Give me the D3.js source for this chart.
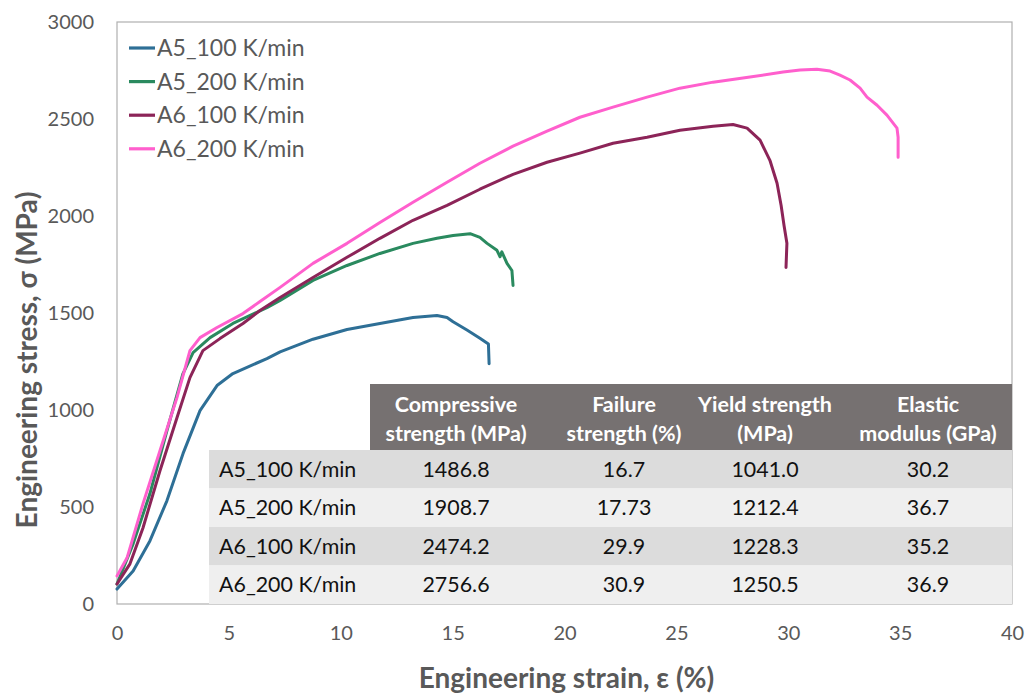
<!DOCTYPE html>
<html>
<head>
<meta charset="utf-8">
<script src="https://cdn.jsdelivr.net/npm/d3@7"></script>
<style>
  body { margin: 0; background: #fff; }
  svg { font-family: Lato, "Open Sans", sans-serif; }
</style>
</head>
<body>
<div id="chart"></div>
<script>
// series names + colours
var seriesNames = ["A5_100 K/min", "A5_200 K/min", "A6_100 K/min", "A6_200 K/min"];
var seriesColors = ["#2e6f96", "#2a8a5f", "#8c2458", "#ff5fcd"];

// stress-strain curves: [strain %, stress MPa]
var a5_100 = [[0,77],[0.72,170],[1.47,325],[2.23,532],[2.95,775],[3.71,997],[4.47,1126],[5.18,1188],
  [6.70,1265],[7.29,1300],[8.76,1365],[10.28,1415],[11.75,1446],[13.23,1477],[14.30,1487],[14.75,1477],
  [15.02,1455],[15.64,1412],[16.22,1370],[16.60,1340],[16.63,1239]];
var a5_200 = [[0,103],[0.72,310],[1.47,568],[2.23,893],[2.95,1188],[3.40,1296],[4.16,1373],[5.18,1446],
  [6.70,1528],[7.29,1565],[8.76,1668],[10.28,1745],[11.75,1807],[13.23,1859],[14.30,1885],[15.02,1900],
  [15.78,1909],[16.22,1890],[16.54,1859],[16.98,1823],[17.12,1790],[17.20,1815],[17.43,1756],[17.65,1719],[17.70,1642]];
var a6_100 = [[0,103],[0.58,207],[1.16,392],[1.92,687],[2.68,960],[3.26,1167],[3.84,1306],[4.60,1368],
  [5.63,1446],[6.39,1513],[7.29,1580],[8.76,1683],[10.28,1787],[11.75,1885],[13.23,1978],[14.75,2055],
  [16.22,2138],[17.70,2215],[19.22,2277],[20.69,2324],[22.17,2375],[23.69,2406],[25.16,2442],[26.64,2463],
  [27.53,2472],[28.16,2453],[28.74,2391],[29.18,2287],[29.50,2169],[29.68,2055],[29.81,1952],[29.94,1859],[29.90,1735]];
var a6_200 = [[0,145],[0.45,238],[1.16,516],[1.92,790],[2.68,1064],[3.26,1306],[3.71,1373],[4.47,1425],
  [5.63,1497],[6.39,1559],[7.29,1632],[8.76,1756],[10.28,1859],[11.75,1967],[13.23,2071],[14.75,2174],
  [16.22,2272],[17.70,2360],[19.22,2437],[20.69,2509],[22.17,2561],[23.69,2613],[25.16,2659],[26.64,2690],
  [28.29,2716],[29.77,2742],[30.53,2752],[31.28,2757],[31.87,2747],[32.31,2726],[32.76,2701],[33.21,2659],
  [33.52,2613],[33.97,2571],[34.41,2520],[34.86,2453],[34.91,2406],[34.91,2303]];

var xTicks = [0, 5, 10, 15, 20, 25, 30, 35, 40];
var yTicks = [0, 500, 1000, 1500, 2000, 2500, 3000];

// table contents
var tableHeaders = [["Compressive", "strength (MPa)"], ["Failure", "strength (%)"], ["Yield strength", "(MPa)"], ["Elastic", "modulus (GPa)"]];
var compressive = ["1486.8", "1908.7", "2474.2", "2756.6"];
var failure = ["16.7", "17.73", "29.9", "30.9"];
var yieldStr = ["1041.0", "1212.4", "1228.3", "1250.5"];
var modulus = ["30.2", "36.7", "35.2", "36.9"];

var svgWidth = 1026, svgHeight = 696;
var margin = {top: 22, right: 14, bottom: 92, left: 117};
var width = svgWidth - margin.left - margin.right;
var height = svgHeight - margin.top - margin.bottom;

var svg = d3.select("#chart").append("svg")
  .attr("width", svgWidth)
  .attr("height", svgHeight);

var chartGroup = svg.append("g")
  .attr("transform", `translate(${margin.left}, ${margin.top})`);

var x = d3.scaleLinear().domain([0, 40]).range([0, width]);
var y = d3.scaleLinear().domain([0, 3000]).range([height, 0]);

// frame
chartGroup.append("rect")
  .attr("width", width).attr("height", height)
  .attr("fill", "none").attr("stroke", "#b0b0b0").attr("stroke-width", 1.2);

// axes
var xAxis = chartGroup.append("g")
  .attr("transform", `translate(0, ${height})`)
  .call(d3.axisBottom(x).tickValues(xTicks).tickSize(0).tickPadding(22));
var yAxis = chartGroup.append("g")
  .call(d3.axisLeft(y).tickValues(yTicks).tickFormat(d3.format("d")).tickSize(0).tickPadding(23));
[xAxis, yAxis].forEach(function(a) {
  a.select(".domain").remove();
  a.selectAll("text").attr("fill", "#595959").style("font-size", "20px").style("font-family", "Lato, sans-serif");
});

// curves
var allSeries = [a5_100, a5_200, a6_100, a6_200];
var line = d3.line().x(d => x(d[0])).y(d => y(d[1]));
chartGroup.selectAll(".curve")
  .data(allSeries)
  .enter()
  .append("path")
  .attr("class", "curve")
  .attr("d", line)
  .attr("fill", "none")
  .attr("stroke", (d, i) => seriesColors[i])
  .attr("stroke-width", 3)
  .attr("stroke-linejoin", "round")
  .attr("stroke-linecap", "round");

// legend
var legend = chartGroup.selectAll(".legend")
  .data(seriesNames)
  .enter()
  .append("g")
  .attr("transform", (d, i) => `translate(12, ${26 + i * 33.6})`);
legend.append("line")
  .attr("x1", 0).attr("x2", 26)
  .attr("stroke", (d, i) => seriesColors[i])
  .attr("stroke-width", 3.2);
legend.append("text")
  .attr("x", 28).attr("dy", "0.36em")
  .attr("fill", "#595959")
  .style("font-size", "23px")
  .text(d => d);

// table
var tableLeft = 209 - margin.left, headLeft = 370 - margin.left, tableRight = width;
var headTop = 384 - margin.top, headBottom = 450 - margin.top, rowH = (height - headBottom) / 4;
var colCenters = [456, 624, 765, 928].map(c => c - margin.left);

var table = chartGroup.append("g");
table.append("rect")
  .attr("x", headLeft).attr("y", headTop)
  .attr("width", tableRight - headLeft).attr("height", headBottom - headTop)
  .attr("fill", "#767171");
table.selectAll(".head")
  .data(tableHeaders)
  .enter()
  .append("text")
  .attr("x", (d, i) => colCenters[i])
  .attr("y", headTop + 28)
  .attr("text-anchor", "middle")
  .attr("fill", "#fff")
  .style("font-size", "21.5px")
  .style("font-weight", "bold")
  .each(function(d) {
    d3.select(this).selectAll("tspan").data(d).enter().append("tspan")
      .attr("x", d3.select(this).attr("x"))
      .attr("dy", (t, j) => j ? 29 : 0)
      .text(t => t);
  });

var rows = seriesNames.map((n, i) => [n, compressive[i], failure[i], yieldStr[i], modulus[i]]);
var rowG = table.selectAll(".row")
  .data(rows)
  .enter()
  .append("g")
  .attr("transform", (d, i) => `translate(0, ${headBottom + i * rowH})`);
rowG.append("rect")
  .attr("x", tableLeft).attr("width", tableRight - tableLeft).attr("height", rowH)
  .attr("fill", (d, i) => i % 2 ? "#efefef" : "#dcdcdc");
rowG.selectAll("text")
  .data(d => d)
  .enter()
  .append("text")
  .attr("x", (d, j) => j ? colCenters[j - 1] : tableLeft + 10)
  .attr("y", rowH / 2)
  .attr("dy", "0.36em")
  .attr("text-anchor", (d, j) => j ? "middle" : "start")
  .attr("fill", "#111")
  .style("font-size", "21.4px")
  .text(d => d);

// axis titles
svg.append("text")
  .attr("x", margin.left + width / 2 + 2)
  .attr("y", 688)
  .attr("text-anchor", "middle")
  .attr("fill", "#595959")
  .style("font-size", "28px")
  .style("font-weight", "bold")
  .text("Engineering strain, ε (%)");

svg.append("text")
  .attr("transform", "translate(37, 360) rotate(-90)")
  .attr("text-anchor", "middle")
  .attr("fill", "#595959")
  .style("font-size", "28px")
  .style("font-weight", "bold")
  .text("Engineering stress, σ (MPa)");
</script>
</body>
</html>
